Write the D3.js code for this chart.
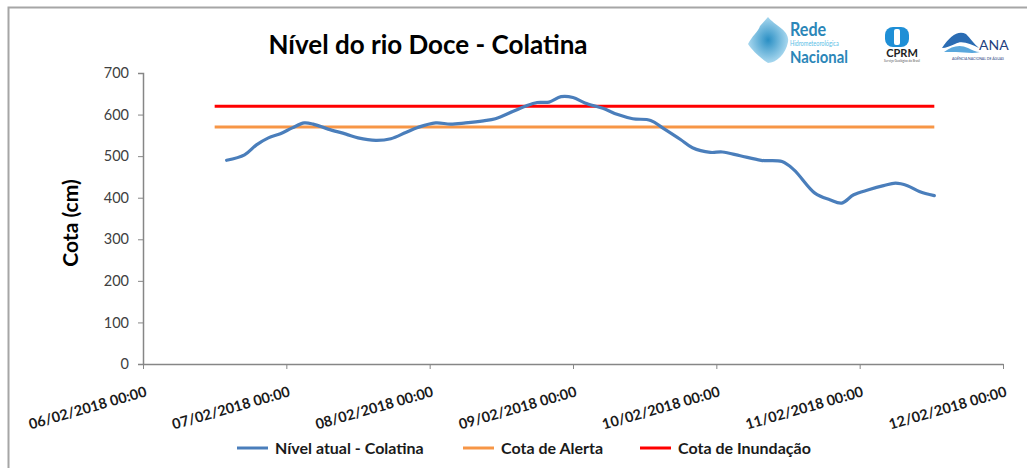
<!DOCTYPE html>
<html>
<head>
<meta charset="utf-8">
<script src="https://cdn.jsdelivr.net/npm/d3@7"></script>
<style>
  body { margin: 0; background: #fff; }
  text { font-family: Lato, "Open Sans", sans-serif; }
</style>
</head>
<body>
<div id="chart"></div>
<script>
// data
var times = ["2018-02-06T14:00","2018-02-06T17:00","2018-02-06T19:00","2018-02-06T21:00","2018-02-06T23:00",
  "2018-02-07T01:00","2018-02-07T03:00","2018-02-07T04:30","2018-02-07T07:00","2018-02-07T10:00",
  "2018-02-07T12:00","2018-02-07T15:00","2018-02-07T17:30","2018-02-07T20:00","2018-02-07T22:00",
  "2018-02-08T01:00","2018-02-08T03:30","2018-02-08T06:00","2018-02-08T09:00","2018-02-08T11:00",
  "2018-02-08T14:00","2018-02-08T16:00","2018-02-08T18:00","2018-02-08T20:00","2018-02-08T22:00",
  "2018-02-09T00:00","2018-02-09T02:00","2018-02-09T05:00","2018-02-09T07:30","2018-02-09T10:00",
  "2018-02-09T13:00","2018-02-09T15:00","2018-02-09T18:00","2018-02-09T20:00","2018-02-09T23:00",
  "2018-02-10T01:00","2018-02-10T04:00","2018-02-10T07:30","2018-02-10T11:00","2018-02-10T13:00",
  "2018-02-10T16:30","2018-02-10T19:00","2018-02-10T21:00","2018-02-10T23:00","2018-02-11T01:30",
  "2018-02-11T04:00","2018-02-11T06:00","2018-02-11T08:00","2018-02-11T10:00","2018-02-11T12:30"];
var nivel = [490,503,527,544,554, 568,580,577,565,553, 544,538,542,557,569,
  580,577,580,585,590, 608,620,629,630,643, 641,628,615,600,590,
  586,568,540,520,509, 510,501,490,487,467, 411,395,387,407,419,
  429,435,429,415,405];

var refTimes = ["2018-02-06T12:00", "2018-02-11T12:30"];
var cotaAlerta = 570;
var cotaInundacao = 620;

var xDomain = ["2018-02-06T00:00", "2018-02-12T00:00"];
var yDomain = [0, 700];
var yTicks = [0, 100, 200, 300, 400, 500, 600, 700];

var legendNames = ["Nível atual - Colatina", "Cota de Alerta", "Cota de Inundação"];
var colors = ["#4a7ebb", "#f79646", "#ff0000"];

var parse = d3.timeParse("%Y-%m-%dT%H:%M");

var width = 1027, height = 468;
var svg = d3.select("#chart").append("svg")
    .attr("width", width)
    .attr("height", height);

// frame
svg.append("path")
    .attr("d", "M8.5,470 V7.5 H1030")
    .attr("fill", "none")
    .attr("stroke", "#a6a6a6")
    .attr("stroke-width", 2);

var x = d3.scaleTime()
    .domain(xDomain.map(parse))
    .range([143, 1003]);
var y = d3.scaleLinear()
    .domain(yDomain)
    .range([364, 73]);

// y axis
var yAxis = svg.append("g")
    .attr("transform", "translate(143,0)")
    .call(d3.axisLeft(y).tickValues(yTicks).tickSize(5).tickPadding(9));
yAxis.select(".domain").attr("stroke", "#868686").attr("stroke-width", 1.5);
yAxis.selectAll(".tick line").attr("stroke", "#868686");
yAxis.selectAll("text")
    .attr("fill", "#404040")
    .style("font-size", "14.5px")
    .style("font-family", "Lato, sans-serif");

// x axis
var xAxis = svg.append("g")
    .attr("transform", "translate(0,364)")
    .call(d3.axisBottom(x)
      .ticks(d3.timeDay.every(1))
      .tickFormat(d3.timeFormat("%d/%m/%Y %H:%M"))
      .tickSizeInner(5).tickSizeOuter(0));
xAxis.select(".domain").attr("stroke", "#868686").attr("stroke-width", 1.5);
xAxis.selectAll(".tick line").attr("stroke", "#868686");
xAxis.selectAll("text")
    .attr("fill", "#1a1a1a")
    .attr("text-anchor", "end")
    .attr("dy", null)
    .attr("y", 0)
    .attr("transform", "translate(4,32) rotate(-16)")
    .style("font-size", "14.5px")
    .style("font-weight", "bold")
    .style("font-family", "Lato, sans-serif");

// reference lines
svg.append("line")
    .attr("x1", x(parse(refTimes[0])))
    .attr("x2", x(parse(refTimes[1])))
    .attr("y1", y(cotaAlerta))
    .attr("y2", y(cotaAlerta))
    .attr("stroke", colors[1])
    .attr("stroke-width", 3);
svg.append("line")
    .attr("x1", x(parse(refTimes[0])))
    .attr("x2", x(parse(refTimes[1])))
    .attr("y1", y(cotaInundacao))
    .attr("y2", y(cotaInundacao))
    .attr("stroke", colors[2])
    .attr("stroke-width", 3);

// water level line
var data = times.map(function(t, i) { return {t: parse(t), v: nivel[i]}; });
var line = d3.line()
    .x(function(d) { return x(d.t); })
    .y(function(d) { return y(d.v); })
    .curve(d3.curveCatmullRom.alpha(0.5));
svg.append("path")
    .datum(data)
    .attr("d", line)
    .attr("fill", "none")
    .attr("stroke", colors[0])
    .attr("stroke-width", 3.2)
    .attr("stroke-linecap", "round");

// title
svg.append("text")
    .attr("x", 428)
    .attr("y", 54)
    .attr("text-anchor", "middle")
    .style("font-size", "26px")
    .style("font-weight", "bold")
    .attr("fill", "#000")
    .text("Nível do rio Doce - Colatina");

// y axis label
svg.append("text")
    .attr("transform", "translate(78,223) rotate(-90)")
    .attr("text-anchor", "middle")
    .style("font-size", "21px")
    .style("font-weight", "bold")
    .text("Cota (cm)");

// legend
var legendX = [237, 463, 640];
var legend = svg.append("g");
legendNames.forEach(function(name, i) {
  legend.append("line")
    .attr("x1", legendX[i]).attr("x2", legendX[i] + 31)
    .attr("y1", 448).attr("y2", 448)
    .attr("stroke", colors[i])
    .attr("stroke-width", 3);
  legend.append("text")
    .attr("x", legendX[i] + 38)
    .attr("y", 453.5)
    .style("font-size", "16px")
    .style("font-weight", "bold")
    .attr("fill", "#1a1a1a")
    .text(name);
});

// logos (approximation)
var logos = svg.append("g");
var grad = svg.append("defs").append("radialGradient").attr("id", "blob");
grad.append("stop").attr("offset", "0%").attr("stop-color", "#2a8fc4");
grad.append("stop").attr("offset", "100%").attr("stop-color", "#a9d8ef");
logos.append("path")
    .attr("d", "M768,17 C775,26 790,30 788,42 C786,54 776,63 768,63 C760,58 752,50 748,44 C752,36 758,32 760,26 Z")
    .attr("fill", "url(#blob)");
logos.append("text")
    .attr("transform", "translate(790,36) scale(0.85,1)")
    .style("font-size", "19px").style("font-weight", "bold")
    .attr("fill", "#2b86b8").text("Rede");
logos.append("text")
    .attr("transform", "translate(790,45.5) scale(0.8,1)")
    .style("font-size", "7px")
    .attr("fill", "#58bde6").text("Hidrometeorológica");
logos.append("text")
    .attr("transform", "translate(790,63) scale(0.85,1)")
    .style("font-size", "17.5px").style("font-weight", "bold")
    .attr("fill", "#2b86b8").text("Nacional");

logos.append("rect").attr("x", 885).attr("y", 27).attr("width", 24).attr("height", 20).attr("rx", 8)
    .attr("fill", "#1f8fd6");
logos.append("rect").attr("x", 894).attr("y", 29).attr("width", 6).attr("height", 16).attr("rx", 2)
    .attr("fill", "#fff");
logos.append("text").attr("x", 902).attr("y", 57).attr("text-anchor", "middle")
    .style("font-size", "11px").style("font-weight", "bold")
    .attr("fill", "#222").text("CPRM");
logos.append("text").attr("x", 902).attr("y", 62).attr("text-anchor", "middle")
    .style("font-size", "3px").attr("fill", "#555").text("Serviço Geológico do Brasil");

logos.append("path")
    .attr("d", "M942,48 C950,36 958,30 966,34 C970,38 974,44 979,48 C970,44 962,40 955,44 C950,46 946,48 942,48 Z")
    .attr("fill", "#2b6cb3");
logos.append("path")
    .attr("d", "M944,52 C952,46 960,44 968,48 C972,50 976,52 980,52 C972,54 964,52 956,52 Z")
    .attr("fill", "#5aa7dc");
logos.append("text").attr("x", 979).attr("y", 50)
    .style("font-size", "14px")
    .attr("fill", "#1f3f7f").text("ANA");
logos.append("text").attr("x", 978).attr("y", 60).attr("text-anchor", "middle")
    .style("font-size", "3.5px").attr("fill", "#1f3f7f").text("AGÊNCIA NACIONAL DE ÁGUAS");
</script>
</body>
</html>
